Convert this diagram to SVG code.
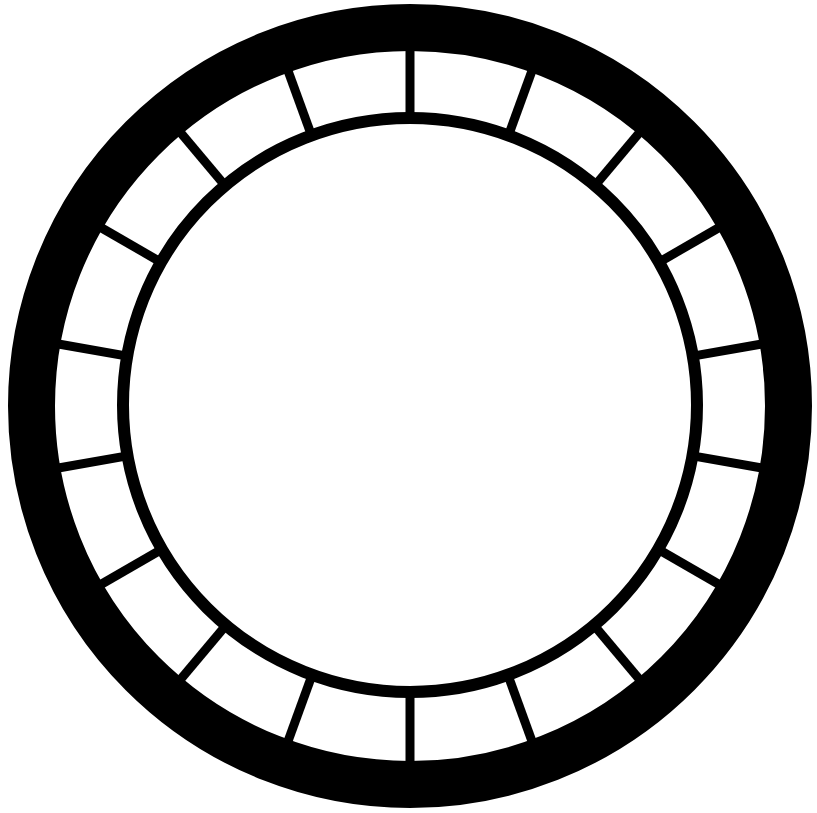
<svg xmlns="http://www.w3.org/2000/svg" width="817" height="813" viewBox="0 0 817 813">
<style>
.ring{fill:none;stroke:#000}
.spoke{stroke:#000;stroke-width:9}
</style>
<defs>
<line id="sp" class="spoke" x1="0" y1="-290" x2="0" y2="-370"/>
</defs>
<rect width="817" height="813" fill="#fff"/>
<g id="outer-ring"><circle class="ring" cx="410" cy="406" r="378.5" stroke-width="47"/></g>
<g id="inner-ring"><circle class="ring" cx="410" cy="405" r="287" stroke-width="12"/></g>
<g id="spokes" transform="translate(410,406)">
<use href="#sp" transform="rotate(0)"/>
<use href="#sp" transform="rotate(20)"/>
<use href="#sp" transform="rotate(40)"/>
<use href="#sp" transform="rotate(60)"/>
<use href="#sp" transform="rotate(80)"/>
<use href="#sp" transform="rotate(100)"/>
<use href="#sp" transform="rotate(120)"/>
<use href="#sp" transform="rotate(140)"/>
<use href="#sp" transform="rotate(160)"/>
<use href="#sp" transform="rotate(180)"/>
<use href="#sp" transform="rotate(200)"/>
<use href="#sp" transform="rotate(220)"/>
<use href="#sp" transform="rotate(240)"/>
<use href="#sp" transform="rotate(260)"/>
<use href="#sp" transform="rotate(280)"/>
<use href="#sp" transform="rotate(300)"/>
<use href="#sp" transform="rotate(320)"/>
<use href="#sp" transform="rotate(340)"/>
</g>
</svg>
